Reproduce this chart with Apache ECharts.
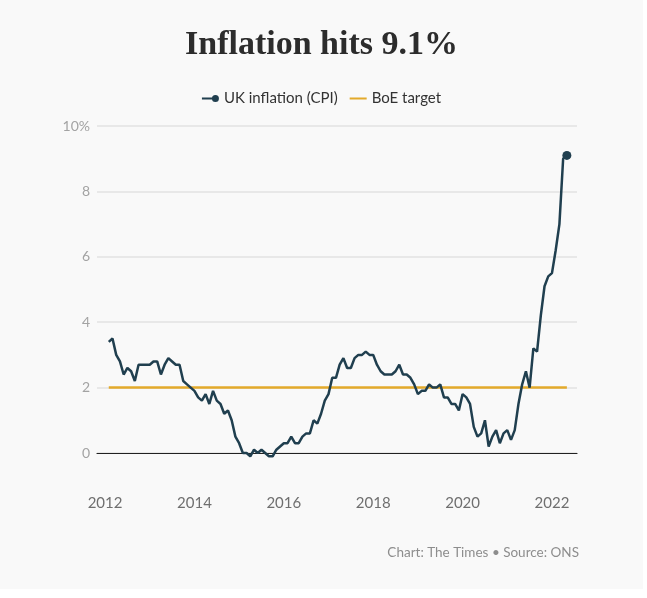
<!DOCTYPE html>
<html>
<head>
<meta charset="utf-8">
<title>Inflation hits 9.1%</title>
<script src="https://cdn.jsdelivr.net/npm/echarts@6/dist/echarts.min.js"></script>
<style>
  html, body { margin: 0; padding: 0; background: #ffffff; }
  #chart { width: 643px; height: 589px; }
</style>
</head>
<body>
<div id="chart"></div>
<script>
// UK CPI, monthly, Feb 2012 -> May 2022 (annual % change)
const firstYear = 2012;
const firstMonth = 2;
const cpi = [
  3.4, 3.5, 3.0, 2.8, 2.4, 2.6, 2.5, 2.2, 2.7, 2.7, 2.7,
  2.7, 2.8, 2.8, 2.4, 2.7, 2.9, 2.8, 2.7, 2.7, 2.2, 2.1, 2.0,
  1.9, 1.7, 1.6, 1.8, 1.5, 1.9, 1.6, 1.5, 1.2, 1.3, 1.0, 0.5,
  0.3, 0.0, 0.0, -0.1, 0.1, 0.0, 0.1, 0.0, -0.1, -0.1, 0.1, 0.2,
  0.3, 0.3, 0.5, 0.3, 0.3, 0.5, 0.6, 0.6, 1.0, 0.9, 1.2, 1.6,
  1.8, 2.3, 2.3, 2.7, 2.9, 2.6, 2.6, 2.9, 3.0, 3.0, 3.1, 3.0,
  3.0, 2.7, 2.5, 2.4, 2.4, 2.4, 2.5, 2.7, 2.4, 2.4, 2.3, 2.1,
  1.8, 1.9, 1.9, 2.1, 2.0, 2.0, 2.1, 1.7, 1.7, 1.5, 1.5, 1.3,
  1.8, 1.7, 1.5, 0.8, 0.5, 0.6, 1.0, 0.2, 0.5, 0.7, 0.3, 0.6,
  0.7, 0.4, 0.7, 1.5, 2.1, 2.5, 2.0, 3.2, 3.1, 4.2, 5.1, 5.4,
  5.5, 6.2, 7.0, 9.0, 9.1,
];
const boeTarget = 2;
const yearTicks = [2012, 2014, 2016, 2018, 2020, 2022];
const yTicks = [0, 2, 4, 6, 8, 10];

const NAVY = '#203f4f';
const GOLD = '#e3aa2b';
const SANS = 'Lato, "Open Sans", sans-serif';

// month index -> decimal year on the x axis
function monthToYear(i) {
  return firstYear + (firstMonth - 1 + i) / 12;
}

const cpiPoints = cpi.map((v, i) => [monthToYear(i), v]);
const lastPoint = cpiPoints[cpiPoints.length - 1];
const targetPoints = [
  [cpiPoints[0][0], boeTarget],
  [lastPoint[0], boeTarget],
];

const chart = echarts.init(document.getElementById('chart'));

chart.setOption({
  backgroundColor: '#f9f9f9',
  animation: false,
  title: {
    text: 'Inflation hits 9.1%',
    left: 'center',
    top: 23,
    textStyle: {
      fontFamily: '"Liberation Serif", serif',
      fontWeight: 'bold',
      fontSize: 34,
      color: '#2c2c2c',
    },
  },
  legend: {
    top: 86,
    left: 'center',
    itemWidth: 17,
    itemHeight: 8,
    itemGap: 12,
    textStyle: { fontFamily: SANS, fontSize: 15, color: '#333' },
    data: [
      {
        name: 'UK inflation (CPI)',
        icon: 'path://M0,3L12,3L12,5L0,5Z M17,4A3.5,3.5,0,1,1,10,4A3.5,3.5,0,1,1,17,4Z',
        itemStyle: { color: NAVY },
      },
      {
        name: 'BoE target',
        icon: 'path://M0,3L17,3L17,5L0,5Z M0,0L0.01,0L0,0.01Z M0,8L0.01,8L0,7.99Z',
        itemStyle: { color: GOLD },
      },
    ],
  },
  grid: { left: 97, right: 66, top: 126, bottom: 136 },
  xAxis: {
    type: 'value',
    min: 2011.82,
    max: 2022.56,
    splitLine: { show: false },
    axisTick: { show: false },
    axisLine: { show: true, lineStyle: { color: '#222', width: 1.2 } },
    axisLabel: {
      customValues: yearTicks,
      formatter: (v) => String(Math.round(v)),
      margin: 43,
      fontFamily: SANS,
      fontSize: 15,
      color: '#6f6f6f',
    },
  },
  yAxis: {
    type: 'value',
    min: 0,
    max: 10,
    interval: 2,
    axisLine: { show: false },
    axisTick: { show: false },
    splitLine: { lineStyle: { color: '#e2e2e2', width: 1.5 } },
    axisLabel: {
      margin: 7,
      fontFamily: SANS,
      fontSize: 14,
      color: '#a3a3a3',
      formatter: (v) => (v === yTicks[yTicks.length - 1] ? v + '%' : String(v)),
    },
  },
  series: [
    {
      name: 'BoE target',
      type: 'line',
      data: targetPoints,
      showSymbol: false,
      lineStyle: { color: GOLD, width: 2.5 },
      itemStyle: { color: GOLD },
      z: 2,
    },
    {
      name: 'UK inflation (CPI)',
      type: 'line',
      data: cpiPoints,
      clip: false,
      showSymbol: false,
      lineStyle: { color: NAVY, width: 2.5 },
      itemStyle: { color: NAVY },
      z: 3,
    },
    {
      name: 'UK inflation (CPI)',
      type: 'scatter',
      data: [lastPoint],
      symbol: 'circle',
      symbolSize: 9,
      itemStyle: { color: NAVY, opacity: 1 },
      z: 4,
    },
  ],
  graphic: [
    {
      type: 'text',
      right: 64,
      top: 546,
      style: {
        text: 'Chart: The Times \u2022 Source: ONS',
        font: '13.5px ' + SANS,
        fill: '#8d8d8d',
      },
    },
  ],
});

window.addEventListener('resize', () => chart.resize());
</script>
</body>
</html>
